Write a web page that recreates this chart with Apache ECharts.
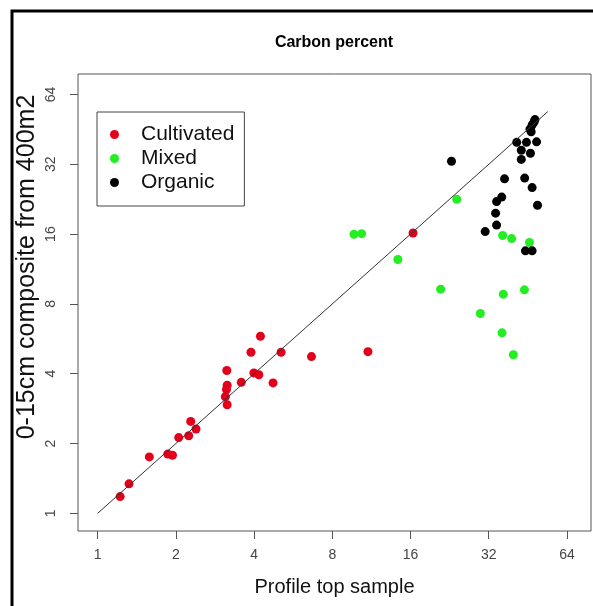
<!DOCTYPE html>
<html>
<head>
<meta charset="utf-8">
<script src="https://cdn.jsdelivr.net/npm/echarts@6/dist/echarts.min.js"></script>
<style>
  html, body { margin: 0; padding: 0; background: #fff; }
  #chart { width: 593px; height: 606px; }
</style>
</head>
<body>
<div id="chart"></div>
<script>
// carbon % : profile top sample (x) vs 0-15cm composite (y)
var cultivatedX = [1.22, 1.32, 1.58, 1.86, 1.94, 2.05, 2.24, 2.28, 2.39, 3.14, 3.15, 3.13, 3.10, 3.15, 3.57, 3.89, 4.23, 3.99, 4.17, 4.73, 5.08, 6.65, 10.97, 16.36];
var cultivatedY = [1.18, 1.34, 1.75, 1.80, 1.78, 2.12, 2.16, 2.49, 2.31, 4.13, 3.57, 3.42, 3.18, 2.94, 3.67, 4.95, 5.80, 4.03, 3.96, 3.65, 4.95, 4.74, 4.98, 16.18];

var mixedX = [9.69, 10.37, 14.3, 24.1, 20.9, 29.7, 36.0, 39.8, 36.4, 43.9, 36.2, 39.2, 45.9];
var mixedY = [15.97, 16.07, 12.43, 22.6, 9.26, 7.27, 6.0, 4.83, 8.81, 9.2, 15.77, 15.3, 14.72];

var organicX = [23.0, 31.0, 34.3, 34.0, 34.3, 35.9, 36.8, 44.0, 47.0, 49.3, 44.3, 47.0, 42.7, 46.3, 42.7, 41.0, 44.7, 48.9, 46.1, 47.0, 47.8, 48.2, 46.6];
var organicY = [33.0, 16.4, 17.5, 19.7, 22.1, 23.1, 27.7, 27.9, 25.4, 21.3, 13.55, 13.55, 33.6, 35.7, 36.8, 39.8, 39.8, 40.0, 45.4, 47.3, 48.7, 49.9, 44.2];

var oneToOne = [1, 54];          // ends of the 1:1 line
var tickValues = [1, 2, 4, 8, 16, 32, 64];

var FONT = "'Liberation Sans', Arial, sans-serif";

function zip(xs, ys) {
  return xs.map(function (x, i) { return [x, ys[i]]; });
}

var chart = echarts.init(document.getElementById('chart'), null, { renderer: 'canvas' });

var axisCommon = {
  type: 'log',
  logBase: 2,
  splitLine: { show: false },
  axisLine: { show: false },
  axisTick: {
    show: true,
    length: 8,
    customValues: tickValues,
    lineStyle: { color: '#555', width: 1 }
  },
  axisLabel: {
    customValues: tickValues,
    color: '#444',
    fontSize: 14,
    fontFamily: FONT
  }
};

var option = {
  backgroundColor: '#fff',
  animation: false,
  title: {
    text: 'Carbon percent',
    left: 334,
    top: 35,
    padding: 0,
    textAlign: 'center',
    textStyle: { fontSize: 16, fontWeight: 'bold', color: '#000', fontFamily: FONT }
  },
  legend: {
    orient: 'vertical',
    left: 97,
    top: 112,
    padding: [12, 10, 13, 13],
    itemGap: 3,
    itemWidth: 9,
    itemHeight: 9,
    borderColor: '#444',
    borderWidth: 1,
    borderRadius: 0,
    icon: 'circle',
    data: ['Cultivated', 'Mixed', 'Organic'],
    textStyle: { fontSize: 21, color: '#111', fontFamily: FONT, padding: [0, 0, 0, 17] }
  },
  grid: {
    left: 78,
    right: 2,
    top: 74,
    bottom: 75,
    show: true,
    borderColor: '#555',
    borderWidth: 1,
    backgroundColor: 'transparent',
    containLabel: false,
    outerBoundsMode: 'none'
  },
  xAxis: echarts.util.merge({
    min: 0.8397,
    max: 79.2,
    name: 'Profile top sample',
    nameLocation: 'middle',
    nameGap: 46,
    nameTextStyle: { fontSize: 20, color: '#111', fontFamily: FONT },
    axisLabel: { margin: 17 }
  }, axisCommon, false),
  yAxis: echarts.util.merge({
    min: 0.8387,
    max: 78.45,
    axisLabel: { margin: 20, rotate: 90 }
  }, axisCommon, false),
  graphic: [
    {
      type: 'polyline',
      silent: true,
      shape: { points: [[12, 606], [12, 11], [593, 11]] },
      style: { stroke: '#000', lineWidth: 3, fill: null }
    },
    {
      type: 'text',
      x: 27,
      y: 267,
      rotation: Math.PI / 2,
      silent: true,
      style: {
        text: '0-15cm composite from 400m2',
        fontSize: 25,
        fontFamily: FONT,
        fill: '#111',
        align: 'center',
        verticalAlign: 'middle'
      }
    }
  ],
  series: [
    {
      name: 'Cultivated',
      type: 'scatter',
      symbol: 'circle',
      symbolSize: 9,
      itemStyle: { color: '#E2001A', opacity: 1 },
      data: zip(cultivatedX, cultivatedY)
    },
    {
      name: 'Mixed',
      type: 'scatter',
      symbol: 'circle',
      symbolSize: 9,
      itemStyle: { color: '#22EE22', opacity: 1 },
      data: zip(mixedX, mixedY)
    },
    {
      name: 'Organic',
      type: 'scatter',
      symbol: 'circle',
      symbolSize: 9,
      itemStyle: { color: '#000', opacity: 1 },
      data: zip(organicX, organicY)
    },
    {
      name: '1:1',
      type: 'line',
      symbol: 'none',
      silent: true,
      z: 5,
      lineStyle: { color: '#333', width: 1 },
      data: zip(oneToOne, oneToOne)
    }
  ]
};

chart.setOption(option);
</script>
</body>
</html>
